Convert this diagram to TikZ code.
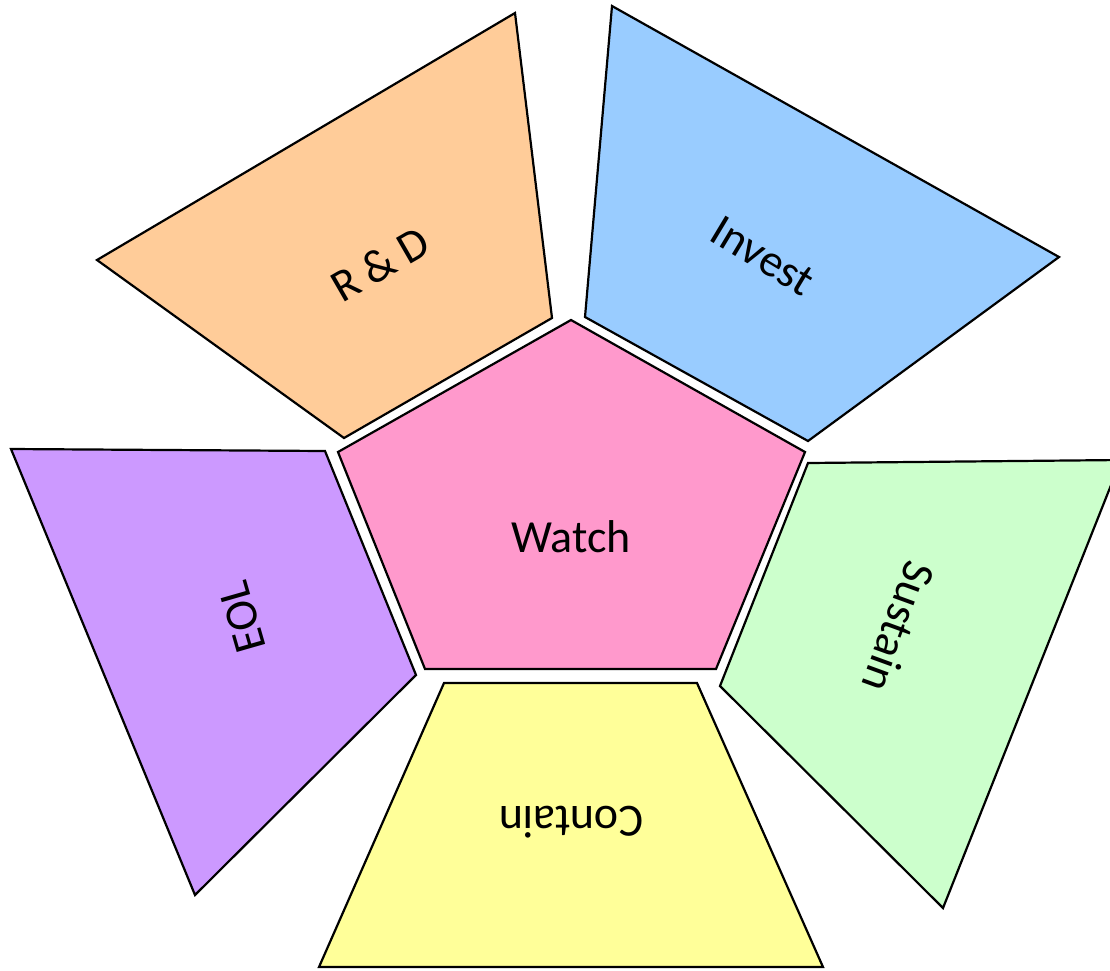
\documentclass[tikz,border=0pt]{standalone}
\usepackage{fontspec}
\setmainfont{Carlito}
\definecolor{rdorange}{HTML}{FFCC99}
\definecolor{investblue}{HTML}{99CCFF}
\definecolor{watchpink}{HTML}{FF99CC}
\definecolor{sustaingreen}{HTML}{CCFFCC}
\definecolor{containyellow}{HTML}{FFFF99}
\definecolor{eolpurple}{HTML}{CC99FF}

\begin{document}
\begin{tikzpicture}[x=1pt, y=-1pt,
    zone/.style={draw, line width=2.2pt, line join=miter},
    lbl/.style={font=\fontsize{46}{55}\selectfont}
]
    \useasboundingbox (0,0) rectangle (1110,970);
    \clip (0,0) rectangle (1110,970);

    \filldraw[zone, fill=rdorange] (97,260) -- (515,13) -- (552,318) -- (344,438) -- cycle;
    \filldraw[zone, fill=investblue] (612,6) -- (1059,257) -- (808,441) -- (585,317) -- cycle;
    \filldraw[zone, fill=watchpink] (571,320) -- (805,452) -- (716,669) -- (425,669) -- (338,452) -- cycle;
    \filldraw[zone, fill=sustaingreen] (808,463) -- (1121,460) -- (943,908) -- (720,686) -- cycle;
    \filldraw[zone, fill=containyellow] (444,683) -- (697,683) -- (823,967) -- (319,967) -- cycle;
    \filldraw[zone, fill=eolpurple] (11,449) -- (325,451) -- (416,675) -- (195,895) -- cycle;

    \node[lbl] (watch) at (571,537) {Watch};
    \node[lbl, rotate=30] (rd) at (380,264) {R \& D};
    \node[lbl, rotate=-31] (invest) at (763,256) {Invest};
    \node[lbl, rotate=-110] (sustain) at (899,627) {Sustain};
    \node[lbl, rotate=180] (contain) at (571,822) {Contain};
    \node[lbl, rotate=106] (eol) at (242,617) {EOL};
\end{tikzpicture}
\end{document}
